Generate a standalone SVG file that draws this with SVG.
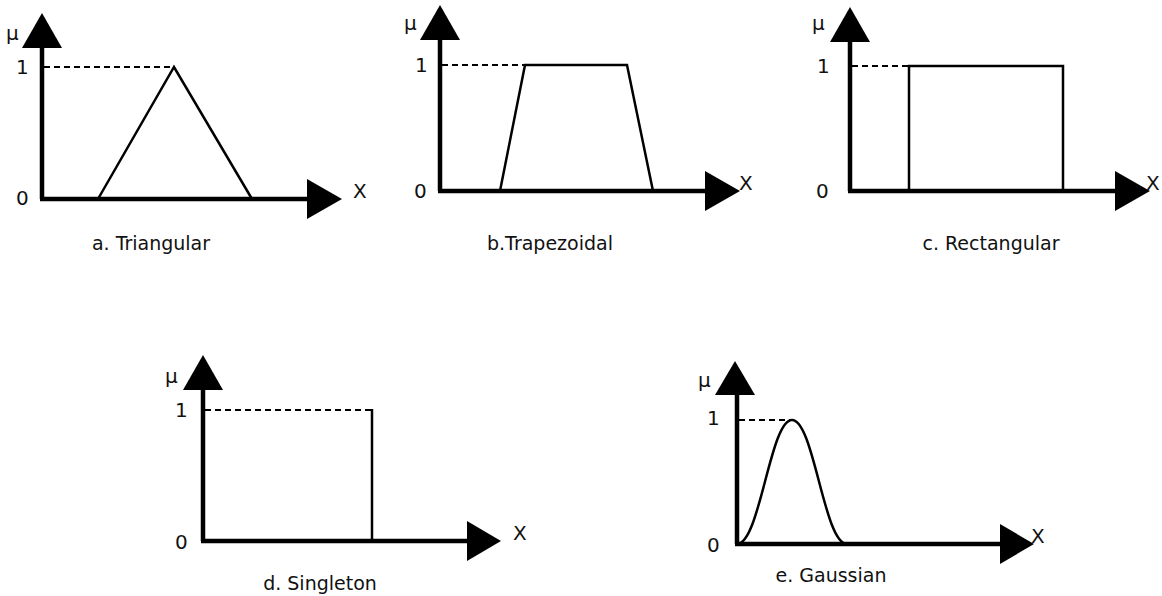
<svg xmlns="http://www.w3.org/2000/svg" width="1162" height="596" viewBox="0 0 1162 596">
<style>
.ax{stroke:#000;stroke-width:4.5;fill:none}
.ah{fill:#000;stroke:none}
.dash{stroke:#000;stroke-width:1.8;stroke-dasharray:6 4;fill:none}
.fn{stroke:#000;stroke-width:2.5;fill:none;stroke-linejoin:miter}
text{font-family:"DejaVu Sans","Verdana",sans-serif;fill:#111}
.lb{font-size:20px}
.xl{font-size:20px}
.cap{font-size:19px;text-anchor:middle}
</style>
<rect width="1162" height="596" fill="#fff"/>

<g id="triangular">
<path class="ax" d="M42 199 V46 M40 199 H307"/>
<polygon class="ah" points="42,13 22,48 62,48"/>
<polygon class="ah" points="307,179 307,219 342,199"/>
<line class="dash" x1="44" y1="67" x2="173" y2="67"/>
<polyline class="fn" points="98,199 174,67 252,199"/>
<text class="lb" x="6" y="40">μ</text>
<text class="lb" x="16" y="74">1</text>
<text class="lb" x="16" y="205">0</text>
<text class="xl" x="353" y="198">X</text>
<text class="cap" x="151" y="250">a. Triangular</text>
</g>

<g id="trapezoidal">
<path class="ax" d="M440 191 V37 M438 191 H705"/>
<polygon class="ah" points="440,5 420,40 460,40"/>
<polygon class="ah" points="705,171 705,211 740,191"/>
<line class="dash" x1="442" y1="65" x2="525" y2="65"/>
<polyline class="fn" points="500,191 525,65 627,65 653,191"/>
<text class="lb" x="404" y="30">μ</text>
<text class="lb" x="415" y="72">1</text>
<text class="lb" x="414" y="198">0</text>
<text class="xl" x="739" y="190">X</text>
<text class="cap" x="550" y="250">b.Trapezoidal</text>
</g>

<g id="rectangular">
<path class="ax" d="M850 191 V39 M848 191 H1115"/>
<polygon class="ah" points="850,7 830,42 870,42"/>
<polygon class="ah" points="1115,171 1115,211 1150,191"/>
<line class="dash" x1="852" y1="66" x2="909" y2="66"/>
<polyline class="fn" points="909,191 909,66 1063,66 1063,191"/>
<text class="lb" x="812" y="30">μ</text>
<text class="lb" x="817" y="73">1</text>
<text class="lb" x="816" y="198">0</text>
<text class="xl" x="1146" y="190">X</text>
<text class="cap" x="991" y="250">c. Rectangular</text>
</g>

<g id="singleton">
<path class="ax" d="M203 541 V387 M201 541 H467"/>
<polygon class="ah" points="203,355 183,390 223,390"/>
<polygon class="ah" points="467,521 467,561 501,541"/>
<line class="dash" x1="205" y1="410" x2="372" y2="410"/>
<line class="fn" x1="372" y1="409" x2="372" y2="541"/>
<text class="lb" x="165" y="383">μ</text>
<text class="lb" x="175" y="417">1</text>
<text class="lb" x="175" y="549">0</text>
<text class="xl" x="513" y="540">X</text>
<text class="cap" x="320" y="590">d. Singleton</text>
</g>

<g id="gaussian">
<path class="ax" d="M737 544 V392 M735 544 H1000"/>
<polygon class="ah" points="735,361 715,395 755,395"/>
<polygon class="ah" points="1000,524 1000,564 1034,544"/>
<line class="dash" x1="739" y1="420" x2="792" y2="420"/>
<path class="fn" d="M737 544 C760 544 770 420 792 420 C814 420 824 544 847 544"/>
<text class="lb" x="698" y="387">μ</text>
<text class="lb" x="707" y="425">1</text>
<text class="lb" x="707" y="552">0</text>
<text class="xl" x="1031" y="543">X</text>
<text class="cap" x="831" y="582">e. Gaussian</text>
</g>
</svg>
